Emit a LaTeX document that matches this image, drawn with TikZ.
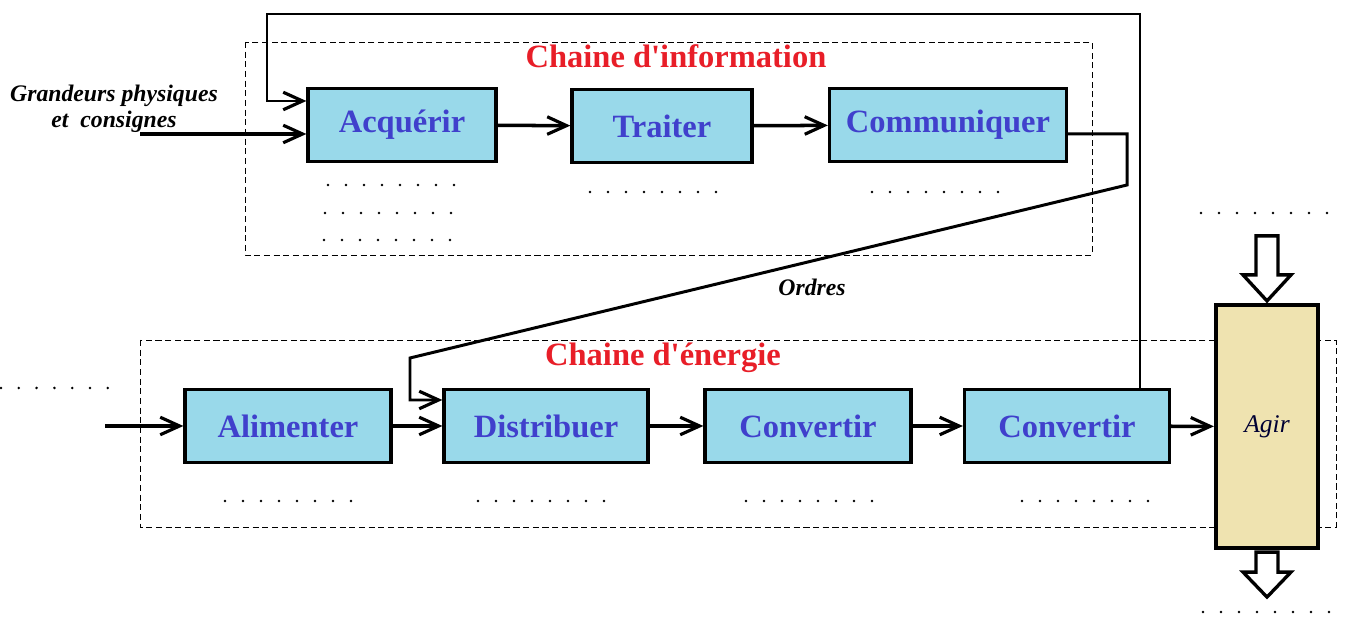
\documentclass[tikz,border=0pt]{standalone}
\usepackage{fontspec}
\setmainfont{Liberation Serif}[Ligatures=TeXOff]
\usetikzlibrary{arrows.meta,calc}

\definecolor{boxblue}{RGB}{153,217,234}
\definecolor{txtblue}{RGB}{64,64,204}
\definecolor{agirfill}{RGB}{239,227,176}
\definecolor{titred}{RGB}{232,30,40}

\tikzset{
  fonction/.style={draw, line width=1.9pt, fill=boxblue, text=txtblue,
    font=\bfseries\fontsize{18.5}{20}\selectfont, minimum height=1.46cm, inner sep=0pt},
  fleche/.style={-{Straight Barb[length=11pt,width=10pt,line width=1.8pt]}, line width=2pt},
  zone/.style={line width=0.5pt, dash pattern=on 3.5pt off 2pt},
  titre/.style={text=titred, font=\bfseries\fontsize{18.5}{20}\selectfont},
  legende/.style={font=\bfseries\itshape\fontsize{13.5}{14.5}\selectfont},
  gros/.style={line width=1.9pt, fill=white, line join=miter},
}

\begin{document}
\begin{tikzpicture}[x=0.02cm, y=-0.02cm]
\useasboundingbox (0,0) rectangle (1346,617);

% zones en pointilles
\draw[zone] (245,42) rectangle (1092,255);
\draw[zone] (140,340) rectangle (1336,527);
\node[titre] (titinfo) at (676,56) {Chaine d'information};
\node[titre] (titener) at (663,358) {Chaine d'énergie};

% chaine d'information
\node[fonction, minimum width=3.76cm] (acq) at (402,125) {Acquérir};
\node[fonction, minimum width=3.6cm] (trait) at (662,126) {Traiter};
\node[fonction, minimum width=4.74cm] (comm) at (948,125) {Communiquer};

% chaine d'energie
\node[fonction, minimum width=4.12cm] (alim) at (288,426) {Alimenter};
\node[fonction, minimum width=4.08cm] (distr) at (546,426) {Distribuer};
\node[fonction, minimum width=4.12cm] (conv1) at (808,426) {Convertir};
\node[fonction, minimum width=4.1cm] (conv2) at (1067,426) {Convertir};
\node[draw, line width=2.4pt, fill=agirfill, minimum width=2.04cm, minimum height=4.86cm,
  font=\itshape\fontsize{14.5}{16}\selectfont, text=black!80!blue] (agir) at (1267,426.5) {Agir};

% textes
\node[legende, align=center] (grandeurs) at (114,109) {Grandeurs physiques\\et\ \ consignes};
\node[legende] (ordres) at (812,287) {Ordres};

% fleches de la chaine
\coordinate (entree) at (140,134);
\coordinate (source) at (105,426);
\draw[fleche] (entree) -- (entree -| acq.west);
\draw[fleche] (acq) -- (trait);
\draw[fleche] (trait) -- (comm);
\draw[fleche] (source) -- (alim);
\draw[fleche] (alim) -- (distr);
\draw[fleche] (distr) -- (conv1);
\draw[fleche] (conv1) -- (conv2);
\draw[fleche] (conv2) -- (agir);

% retour et ordres
\draw[fleche, line width=1.5pt] ($(conv2.north east)+(-31,0)$) |- (267,14) |- ($(acq.west)+(0,-24)$);
\draw[fleche, line width=1.7pt] ($(comm.east)+(0,9)$) -- (1127,134) -- (1127,185) -- (410,358) |- ($(distr.west)+(0,-26)$);

% fleches de puissance
\draw[gros] ($(agir.north)+(-11,-67)$) -- ++(22,0) -- ++(0,39) -- ++(13,0) -- ($(agir.north)+(0,-2)$)
  -- ++(-24,-26) -- ++(13,0) -- cycle;
\draw[gros] ($(agir.south)+(-11,2)$) -- ++(22,0) -- ++(0,20) -- ++(13,0) -- ($(agir.south)+(0,47)$)
  -- ++(-24,-25) -- ++(13,0) -- cycle;

% lignes de points
\foreach \x/\y in {328/185, 325/213, 324/240, 590/192, 872/192,
                   225/501, 478/501, 746/501, 1022/501, 1201/213, 1203/612}
  \foreach \k in {0,...,7}
    \fill ($(\x,\y)+(\k*18,0)$) circle (1.4);
\foreach \k in {0,...,6}
  \fill ($(1,388)+(\k*17.8,0)$) circle (1.4);

\end{tikzpicture}
\end{document}
